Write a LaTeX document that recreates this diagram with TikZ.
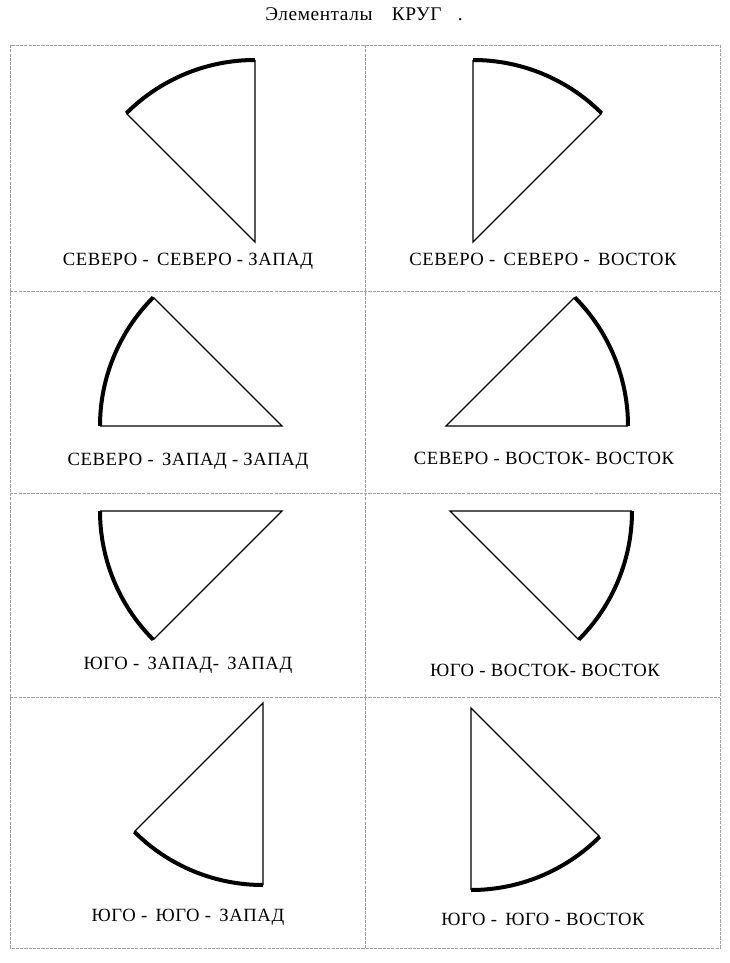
\documentclass[tikz,border=0pt]{standalone}
\usepackage{fontspec}
\setmainfont{Liberation Serif}
\newfontfamily\widefont[LetterSpace=3.0]{Liberation Serif}
\usetikzlibrary{calc,positioning}
\tikzset{
  cell/.style={draw=gray!75, line width=0.6pt, dash pattern=on 2.4pt off 0.8pt},
  spoke/.style={draw=black, line width=1pt},
  rim/.style={draw=black, line width=3pt},
  caption/.style={font=\widefont\fontsize{14}{16}\selectfont, inner sep=0pt, anchor=center},
  heading/.style={font=\widefont\fontsize{14.5}{17}\selectfont, inner sep=0pt, anchor=center},
}

\begin{document}
\begin{tikzpicture}[x=0.75pt, y=-0.75pt]
  \useasboundingbox (0,0) rectangle (730,963);
  \def\rimrad{136.5pt}

  % title
  \node[heading] (title) at (364,14) {Элементалы\quad КРУГ\ \ \ .};

  % table
  \draw[cell] (10,45) rectangle (720,948);
  \draw[cell] (365,45) -- (365,948);
  \draw[cell] (10,291) -- (720,291);
  \draw[cell] (10,493) -- (720,493);
  \draw[cell] (10,697) -- (720,697);

  % row 1
  \coordinate (nnw) at (255,242);
  \draw[spoke] ($(nnw)+(90:\rimrad)$) -- (nnw) -- ($(nnw)+(135:\rimrad)$);
  \draw[rim] (nnw) ++(90:\rimrad) arc[start angle=90, end angle=135, radius=\rimrad];
  \node[caption] (lnnw) at (188,261) {СЕВЕРО -\, СЕВЕРО - ЗАПАД};

  \coordinate (nne) at (473,242);
  \draw[spoke] ($(nne)+(90:\rimrad)$) -- (nne) -- ($(nne)+(45:\rimrad)$);
  \draw[rim] (nne) ++(90:\rimrad) arc[start angle=90, end angle=45, radius=\rimrad];
  \node[caption] (lnne) at (543,259) {СЕВЕРО -\, СЕВЕРО -\, ВОСТОК};

  % row 2
  \coordinate (nww) at (282,426);
  \draw[spoke] ($(nww)+(180:\rimrad)$) -- (nww) -- ($(nww)+(135:\rimrad)$);
  \draw[rim] (nww) ++(135:\rimrad) arc[start angle=135, end angle=180, radius=\rimrad];
  \node[caption] (lnww) at (188,461) {СЕВЕРО -\, ЗАПАД - ЗАПАД};

  \coordinate (nee) at (446,426);
  \draw[spoke] ($(nee)+(0:\rimrad)$) -- (nee) -- ($(nee)+(45:\rimrad)$);
  \draw[rim] (nee) ++(45:\rimrad) arc[start angle=45, end angle=0, radius=\rimrad];
  \node[caption] (lnee) at (544,458) {СЕВЕРО - ВОСТОК- ВОСТОК};

  % row 3
  \coordinate (sww) at (282,511);
  \draw[spoke] ($(sww)+(180:\rimrad)$) -- (sww) -- ($(sww)+(225:\rimrad)$);
  \draw[rim] (sww) ++(180:\rimrad) arc[start angle=180, end angle=225, radius=\rimrad];
  \node[caption] (lsww) at (188,665) {ЮГО -\, ЗАПАД-\, ЗАПАД};

  \coordinate (see) at (450,511);
  \draw[spoke] ($(see)+(0:\rimrad)$) -- (see) -- ($(see)+(-45:\rimrad)$);
  \draw[rim] (see) ++(0:\rimrad) arc[start angle=0, end angle=-45, radius=\rimrad];
  \node[caption] (lsee) at (545,670) {ЮГО - ВОСТОК- ВОСТОК};

  % row 4
  \coordinate (ssw) at (263,703);
  \draw[spoke] ($(ssw)+(270:\rimrad)$) -- (ssw) -- ($(ssw)+(225:\rimrad)$);
  \draw[rim] (ssw) ++(225:\rimrad) arc[start angle=225, end angle=270, radius=\rimrad];
  \node[caption] (lssw) at (188,917) {ЮГО -\, ЮГО -\, ЗАПАД};

  \coordinate (sse) at (471,708);
  \draw[spoke] ($(sse)+(270:\rimrad)$) -- (sse) -- ($(sse)+(315:\rimrad)$);
  \draw[rim] (sse) ++(270:\rimrad) arc[start angle=270, end angle=315, radius=\rimrad];
  \node[caption] (lsse) at (543,919) {ЮГО -\, ЮГО - ВОСТОК};

\end{tikzpicture}
\end{document}
